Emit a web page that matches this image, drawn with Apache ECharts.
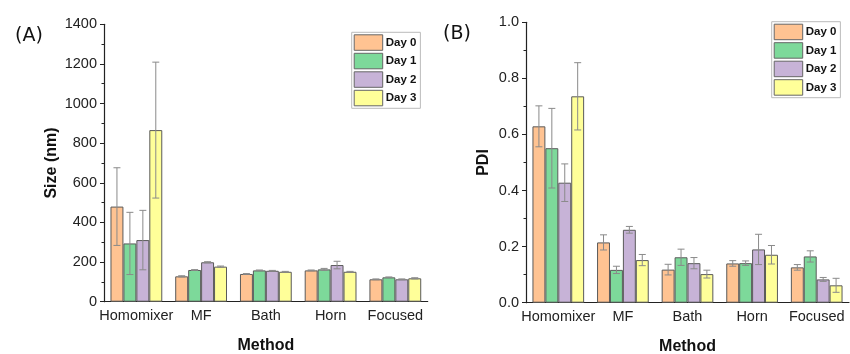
<!DOCTYPE html>
<html>
<head>
<meta charset="utf-8">
<script src="https://cdn.jsdelivr.net/npm/echarts@6/dist/echarts.min.js"></script>
<style>
html,body{margin:0;padding:0;background:#fff;}
#chart{width:850px;height:354px;}
</style>
</head>
<body>
<div id="chart"></div>
<script>
// ---- data ----
const categories = ['Homomixer', 'MF', 'Bath', 'Horn', 'Focused'];
const dayNames = ['Day 0', 'Day 1', 'Day 2', 'Day 3'];

// Panel A: Size (nm)
const sizeDay0 = [480, 128, 140, 158, 113];
const sizeDay1 = [294, 160, 158, 163, 123];
const sizeDay2 = [311, 199, 156, 185, 113];
const sizeDay3 = [866, 177, 151, 151, 118];
const sizeErr0 = [196, 3, 2, 2, 2];
const sizeErr1 = [157, 2, 2, 5, 2];
const sizeErr2 = [150, 3, 2, 19, 2];
const sizeErr3 = [343, 3, 2, 2, 3];

// Panel B: PDI
const pdiDay0 = [0.629, 0.215, 0.118, 0.140, 0.126];
const pdiDay1 = [0.551, 0.117, 0.162, 0.141, 0.165];
const pdiDay2 = [0.428, 0.260, 0.141, 0.190, 0.083];
const pdiDay3 = [0.736, 0.152, 0.102, 0.171, 0.062];
const pdiErr0 = [0.073, 0.027, 0.019, 0.010, 0.010];
const pdiErr1 = [0.142, 0.013, 0.029, 0.008, 0.020];
const pdiErr2 = [0.067, 0.012, 0.020, 0.054, 0.007];
const pdiErr3 = [0.120, 0.020, 0.014, 0.033, 0.025];

const sizeTicks = [0, 200, 400, 600, 800, 1000, 1200, 1400];
const pdiTicks = [0.0, 0.2, 0.4, 0.6, 0.8, 1.0];

const colors = ['#FFC392', '#7DD99A', '#C7B3D7', '#FFFF99'];

// ---- chart ----
const chart = echarts.init(document.getElementById('chart'), null, {renderer: 'canvas'});
const FONT = '"Liberation Sans", Arial, sans-serif';
const GAP = 0.2; // barCategoryGap fraction

function errSeries(name, gridIdx, k, vals, errs) {
  return {
    type: 'custom',
    name: name,
    xAxisIndex: gridIdx * 2,
    yAxisIndex: gridIdx,
    z: 10,
    silent: true,
    data: vals.map((v, i) => [i, v, errs[i]]),
    encode: {x: 0, y: 1},
    renderItem: function (params, api) {
      const ci = api.value(0), v = api.value(1), e = api.value(2);
      const c = api.coord([ci, v]);
      const bw = api.size([1, 0])[0];
      const barW = bw * (1 - GAP) / 4;
      const x = c[0] - bw * (1 - GAP) / 2 + (k + 0.5) * barW;
      const yt = api.coord([ci, v + e])[1];
      const yb = api.coord([ci, v - e])[1];
      const cap = 3.5;
      const st = {stroke: '#8a8a8a', lineWidth: 1};
      return {
        type: 'group',
        children: [
          {type: 'line', shape: {x1: x, y1: yt, x2: x, y2: yb}, style: st},
          {type: 'line', shape: {x1: x - cap, y1: yt, x2: x + cap, y2: yt}, style: st},
          {type: 'line', shape: {x1: x - cap, y1: yb, x2: x + cap, y2: yb}, style: st}
        ]
      };
    }
  };
}

function barSeries(name, gridIdx, k, vals) {
  return {
    type: 'bar',
    name: name,
    xAxisIndex: gridIdx * 2,
    yAxisIndex: gridIdx,
    data: vals,
    barGap: '0%',
    barCategoryGap: (GAP * 100) + '%',
    itemStyle: {color: colors[k], borderColor: '#5a5a5a', borderWidth: 1},
    emphasis: {disabled: true}
  };
}

const sizeVals = [sizeDay0, sizeDay1, sizeDay2, sizeDay3];
const sizeErrs = [sizeErr0, sizeErr1, sizeErr2, sizeErr3];
const pdiVals = [pdiDay0, pdiDay1, pdiDay2, pdiDay3];
const pdiErrs = [pdiErr0, pdiErr1, pdiErr2, pdiErr3];

const series = [];
for (let k = 0; k < 4; k++) series.push(barSeries(dayNames[k], 0, k, sizeVals[k]));
for (let k = 0; k < 4; k++) series.push(barSeries(dayNames[k], 1, k, pdiVals[k]));
for (let k = 0; k < 4; k++) series.push(errSeries('errA' + k, 0, k, sizeVals[k], sizeErrs[k]));
for (let k = 0; k < 4; k++) series.push(errSeries('errB' + k, 1, k, pdiVals[k], pdiErrs[k]));

function xAxes(gridIdx) {
  return [
    {
      type: 'category', gridIndex: gridIdx, data: categories, position: 'bottom',
      name: 'Method', nameLocation: 'middle', nameGap: 36,
      nameTextStyle: {fontFamily: FONT, fontWeight: 'bold', fontSize: 16, color: '#111'},
      axisLine: {lineStyle: {color: '#222', width: 1.2}},
      axisTick: {alignWithLabel: true, length: 4, lineStyle: {color: '#222'}},
      axisLabel: {fontFamily: FONT, fontSize: 14.5, color: '#222', margin: 7, interval: 0},
      splitLine: {show: false}
    },
    {
      type: 'category', gridIndex: gridIdx, data: categories, position: 'bottom',
      axisLine: {show: false},
      axisTick: {alignWithLabel: false, length: 2.5, lineStyle: {color: '#222'}},
      axisLabel: {show: false},
      splitLine: {show: false}
    }
  ];
}

function legendAt(left, top) {
  return {
    data: dayNames.map(n => ({name: n, icon: 'rect'})),
    orient: 'vertical', left: left, top: top,
    itemWidth: 28.5, itemHeight: 15.5, itemGap: 2,
    padding: [2, 4, 2, 2], borderColor: '#bbb', borderWidth: 1,
    itemStyle: {borderColor: '#666', borderWidth: 1},
    textStyle: {fontFamily: FONT, fontWeight: 'bold', fontSize: 11.5, color: '#111', padding: [0, 0, 0, -2]},
    selectedMode: false
  };
}

const option = {
  animation: false,
  backgroundColor: '#fff',
  title: [
    {text: '(A)', left: 10, top: 22, textStyle: {fontFamily: 'DejaVu Sans, sans-serif', fontWeight: 'normal', fontSize: 19, color: '#111'}},
    {text: '(B)', left: 438, top: 20, textStyle: {fontFamily: 'DejaVu Sans, sans-serif', fontWeight: 'normal', fontSize: 19, color: '#111'}}
  ],
  legend: [legendAt(351.7, 32.3), legendAt(771.7, 21.7)],
  grid: [
    {left: 104, right: 422.3, top: 24.3, bottom: 52.3, containLabel: false, outerBoundsMode: 'none'},
    {left: 526, right: 1, top: 22.3, bottom: 51.3, containLabel: false, outerBoundsMode: 'none'}
  ],
  xAxis: xAxes(0).concat(xAxes(1)),
  yAxis: [
    {
      type: 'value', gridIndex: 0, min: sizeTicks[0], max: sizeTicks[sizeTicks.length - 1], interval: sizeTicks[1] - sizeTicks[0],
      name: 'Size (nm)', nameLocation: 'middle', nameGap: 44,
      nameTextStyle: {fontFamily: FONT, fontWeight: 'bold', fontSize: 16, color: '#111'},
      axisLine: {show: true, lineStyle: {color: '#222', width: 1.2}},
      axisTick: {show: true, length: 4, lineStyle: {color: '#222'}},
      minorTick: {show: true, splitNumber: 2, length: 2.5, lineStyle: {color: '#222'}},
      axisLabel: {fontFamily: FONT, fontSize: 14.5, color: '#222', margin: 7, formatter: v => String(v)},
      splitLine: {show: false}
    },
    {
      type: 'value', gridIndex: 1, min: pdiTicks[0], max: pdiTicks[pdiTicks.length - 1], interval: pdiTicks[1] - pdiTicks[0],
      name: 'PDI', nameLocation: 'middle', nameGap: 34,
      nameTextStyle: {fontFamily: FONT, fontWeight: 'bold', fontSize: 16, color: '#111'},
      axisLine: {show: true, lineStyle: {color: '#222', width: 1.2}},
      axisTick: {show: true, length: 4, lineStyle: {color: '#222'}},
      minorTick: {show: true, splitNumber: 2, length: 2.5, lineStyle: {color: '#222'}},
      axisLabel: {fontFamily: FONT, fontSize: 14.5, color: '#222', margin: 7, formatter: v => v.toFixed(1)},
      splitLine: {show: false}
    }
  ],
  series: series
};
chart.setOption(option);
</script>
</body>
</html>
